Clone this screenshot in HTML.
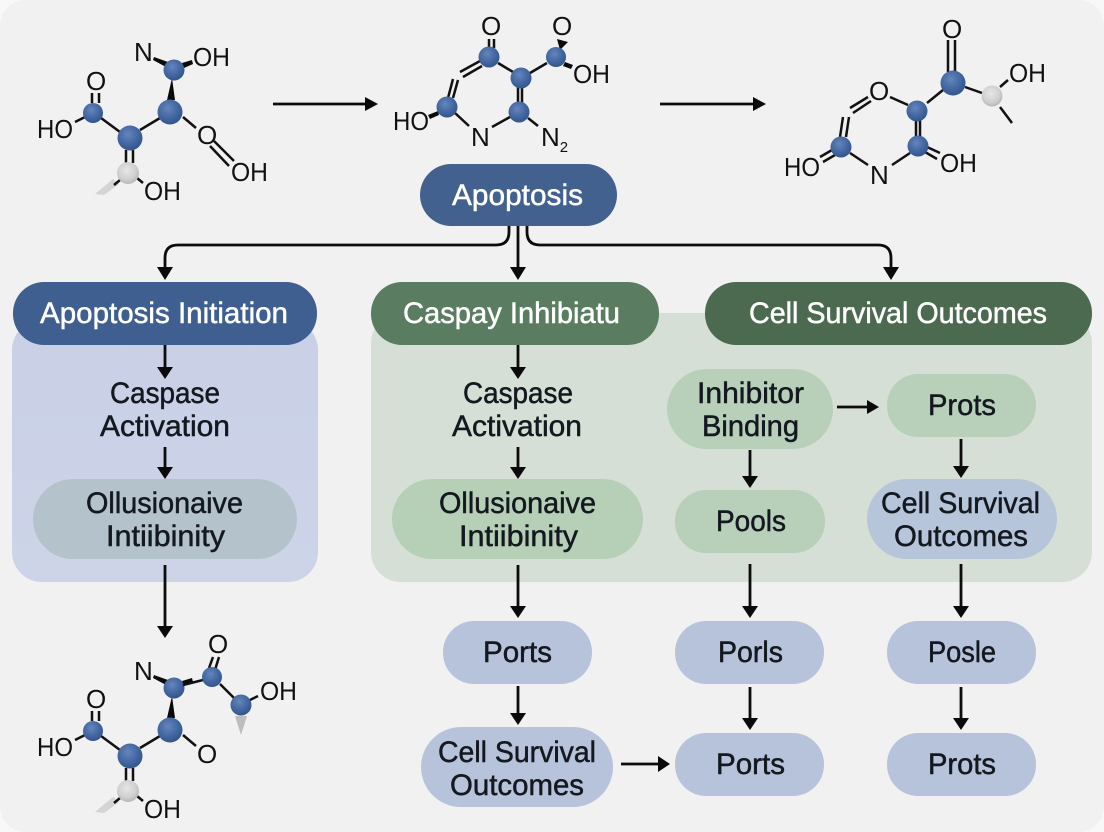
<!DOCTYPE html>
<html><head><meta charset="utf-8"><style>
html,body{margin:0;padding:0;background:#f8f8f8}
svg{display:block;filter:blur(.35px)}
text{font-family:"Liberation Sans",sans-serif}
.n{font-size:30px;fill:#14181f;text-anchor:start;stroke:#14181f;stroke-width:.5}
.w{font-size:30px;fill:#fff;stroke:#fff;stroke-width:.5}
.m{font-size:26px;fill:#111}
.b{stroke:#111;stroke-width:2.5;fill:none;stroke-linecap:butt}
.a{stroke:#0c0c0c;stroke-width:2.8;fill:none}
.h{fill:#0a0a0a}
</style></head><body>
<svg width="1104" height="832" viewBox="0 0 1104 832" xmlns="http://www.w3.org/2000/svg">
<defs>
<radialGradient id="bl" cx=".42" cy=".35" r=".7"><stop offset="0" stop-color="#6585bd"/><stop offset=".6" stop-color="#41659f"/><stop offset="1" stop-color="#31528a"/></radialGradient>
<radialGradient id="gr" cx=".45" cy=".38" r=".7"><stop offset="0" stop-color="#e6e6e6"/><stop offset=".6" stop-color="#cfcfcf"/><stop offset="1" stop-color="#adadad"/></radialGradient>
<linearGradient id="fadeL" x1="0" y1="0" x2="0" y2="1"><stop offset="0" stop-color="#c9d0e6"/><stop offset="1" stop-color="#cdd4e8"/></linearGradient>
<g id="mol">
<path class="b" d="M92 93V103M99 93V103M75 122L85 117M101 118L120 132M140 130L160 118M183 117L196 128M126 150V163M133 150V163M137 178L143 183"/>
<path class="h" d="M167 100L172 78L175 100ZM154 57L168 62L166 67L153 60ZM182 63L192 60L193 64L184 68Z"/>
<polygon fill="#d4d4d4" points="95,194 113,179 119,184 104,195"/>
<path class="b" stroke-width="3" d="M114 185L120 180"/>
<circle cx="93" cy="113" r="10" fill="url(#bl)"/><circle cx="130" cy="138" r="12.5" fill="url(#bl)"/><circle cx="170" cy="112" r="12.5" fill="url(#bl)"/><circle cx="174" cy="70" r="10.5" fill="url(#bl)"/><circle cx="128" cy="173" r="11" fill="url(#gr)"/>
</g>
</defs>
<rect width="1104" height="832" fill="#f8f8f8"/>
<rect x="0" y="0" width="1104" height="832" rx="26" fill="#f1f1f1"/>

<!-- panels -->
<rect x="12" y="320" width="306" height="262" rx="30" fill="url(#fadeL)"/>
<rect x="371" y="313" width="721" height="269" rx="30" fill="#d6dfd5"/>

<!-- header nodes -->
<rect x="420" y="164" width="197" height="62" rx="31" fill="#43618f"/>
<rect x="13" y="282" width="304" height="63" rx="31" fill="#3f5f90"/>
<rect x="371" y="282" width="288" height="63" rx="31" fill="#5a7c60"/>
<rect x="705" y="282" width="387" height="63" rx="31" fill="#4c6a50"/>

<!-- inner nodes -->
<rect x="33" y="479" width="264" height="80" rx="40" fill="#b3c2cb"/>
<rect x="392" y="479" width="251" height="80" rx="40" fill="#b6d0b8"/>
<rect x="667" y="369" width="166" height="80" rx="40" fill="#b8cfba"/>
<rect x="887" y="374" width="149" height="63" rx="31" fill="#b8cfba"/>
<rect x="675" y="490" width="150" height="63" rx="31" fill="#b8cfba"/>
<rect x="867" y="479" width="190" height="80" rx="40" fill="#b6c5d9"/>
<rect x="443" y="621" width="149" height="63" rx="31" fill="#b6c3db"/>
<rect x="675" y="621" width="149" height="63" rx="31" fill="#b6c3db"/>
<rect x="887" y="621" width="149" height="63" rx="31" fill="#b6c3db"/>
<rect x="421" y="727" width="192" height="80" rx="40" fill="#b6c3db"/>
<rect x="675" y="733" width="149" height="63" rx="31" fill="#b6c3db"/>
<rect x="887" y="733" width="149" height="63" rx="31" fill="#b6c3db"/>

<!-- labels -->
<text class="w" x="452" y="205" textLength="131" lengthAdjust="spacingAndGlyphs">Apoptosis</text>
<text class="w" x="40" y="323" textLength="248" lengthAdjust="spacingAndGlyphs">Apoptosis Initiation</text>
<text class="w" x="403" y="323" textLength="217" lengthAdjust="spacingAndGlyphs">Caspay Inhibiatu</text>
<text class="w" x="749" y="323" textLength="298" lengthAdjust="spacingAndGlyphs">Cell Survival Outcomes</text>

<text class="n" x="110" y="403" textLength="110" lengthAdjust="spacingAndGlyphs">Caspase</text>
<text class="n" x="100" y="436" textLength="130" lengthAdjust="spacingAndGlyphs">Activation</text>
<text class="n" x="86" y="513" textLength="157" lengthAdjust="spacingAndGlyphs">Ollusionaive</text>
<text class="n" x="106" y="546" textLength="119" lengthAdjust="spacingAndGlyphs">Intiibinity</text>

<text class="n" x="463" y="403" textLength="110" lengthAdjust="spacingAndGlyphs">Caspase</text>
<text class="n" x="452" y="436" textLength="130" lengthAdjust="spacingAndGlyphs">Activation</text>
<text class="n" x="439" y="513" textLength="157" lengthAdjust="spacingAndGlyphs">Ollusionaive</text>
<text class="n" x="459" y="546" textLength="119" lengthAdjust="spacingAndGlyphs">Intiibinity</text>

<text class="n" x="697" y="403" textLength="107" lengthAdjust="spacingAndGlyphs">Inhibitor</text>
<text class="n" x="702" y="436" textLength="97" lengthAdjust="spacingAndGlyphs">Binding</text>
<text class="n" x="928" y="415" textLength="68" lengthAdjust="spacingAndGlyphs">Prots</text>
<text class="n" x="716" y="531" textLength="70" lengthAdjust="spacingAndGlyphs">Pools</text>
<text class="n" x="881" y="513" textLength="159" lengthAdjust="spacingAndGlyphs">Cell Survival</text>
<text class="n" x="894" y="546" textLength="134" lengthAdjust="spacingAndGlyphs">Outcomes</text>

<text class="n" x="483" y="662" textLength="69" lengthAdjust="spacingAndGlyphs">Ports</text>
<text class="n" x="718" y="662" textLength="65" lengthAdjust="spacingAndGlyphs">Porls</text>
<text class="n" x="928" y="662" textLength="68" lengthAdjust="spacingAndGlyphs">Posle</text>
<text class="n" x="438" y="762" textLength="158" lengthAdjust="spacingAndGlyphs">Cell Survival</text>
<text class="n" x="450" y="795" textLength="134" lengthAdjust="spacingAndGlyphs">Outcomes</text>
<text class="n" x="716" y="774" textLength="69" lengthAdjust="spacingAndGlyphs">Ports</text>
<text class="n" x="928" y="774" textLength="68" lengthAdjust="spacingAndGlyphs">Prots</text>

<!-- connectors -->
<path class="a" d="M518 226V268M509 226V232Q509 245 496 245H178Q165 245 165 258V268M527 226V232Q527 245 540 245H878Q891 245 891 258V268"/>
<path class="h" d="M157 267H173L165 280ZM510 267H526L518 280ZM883 267H899L891 280Z"/>
<g class="a">
<path d="M273 104H368M660 104H756M837 407H869M621 764H660"/>
<path d="M165 345V368M165 447V468M165 565V626M518 345V368M518 447V468M518 565V608M518 686V714M750 450V478M750 564V608M750 687V720M961 439V468M961 564V608M961 687V720"/>
</g>
<path class="h" d="M365 97L378 104L365 111ZM753 97L766 104L753 111ZM867 400L879 407L867 414ZM658 756L670 764L658 772Z"/>
<path class="h" d="M157 367H173L165 379ZM157 467H173L165 479ZM157 626H173L165 638ZM510 367H526L518 379ZM510 467H526L518 479ZM510 606H526L518 618ZM510 713H526L518 725ZM742 476H758L750 488ZM742 606H758L750 618ZM742 718H758L750 730ZM953 466H969L961 478ZM953 606H969L961 618ZM953 718H969L961 730Z"/>

<!-- molecule 1 -->
<use href="#mol"/>
<text class="m" x="86" y="90">O</text>
<text class="m" x="37" y="138" textLength="36" lengthAdjust="spacingAndGlyphs">HO</text>
<text class="m" x="134" y="61">N</text>
<text class="m" x="193" y="66" textLength="37" lengthAdjust="spacingAndGlyphs">OH</text>
<text class="m" x="197" y="144">O</text>
<text class="m" x="231" y="181" textLength="37" lengthAdjust="spacingAndGlyphs">OH</text>
<text class="m" x="144" y="200" textLength="37" lengthAdjust="spacingAndGlyphs">OH</text>
<path class="b" d="M210 146L229 166M214 141L234 161"/>

<!-- molecule 4 -->
<use href="#mol" y="618"/>
<text class="m" x="86" y="708">O</text>
<text class="m" x="37" y="756" textLength="36" lengthAdjust="spacingAndGlyphs">HO</text>
<text class="m" x="134" y="680">N</text>
<text class="m" x="197" y="763">O</text>
<text class="m" x="144" y="818" textLength="37" lengthAdjust="spacingAndGlyphs">OH</text>
<text class="m" x="208" y="653">O</text>
<text class="m" x="260" y="700" textLength="37" lengthAdjust="spacingAndGlyphs">OH</text>
<path class="b" d="M183 685L203 680M213 657L209 668M219 657L215 670M220 684L234 698M250 700L258 696"/>
<polygon fill="#bdbdbd" points="235,716 247,716 241,735"/>
<circle cx="212" cy="677" r="10" fill="url(#bl)"/><circle cx="241" cy="705" r="10.5" fill="url(#bl)"/>

<!-- molecule 2 -->
<path class="b" d="M489 39V48M494 39V48M498 63L513 72M530 73L547 63M480 61L460 72M482 66L463 77M453 79L448 98M458 80L453 98M455 113L469 126M492 127L510 117M518 87V103M522 87V103M528 118L538 126"/>
<path class="h" d="M557 39L568 42L560 50ZM565 62L573 65L571 69L563 66ZM428 115L438 111L439 115L430 119Z"/>
<circle cx="489" cy="57" r="10.5" fill="url(#bl)"/><circle cx="521" cy="78" r="10.5" fill="url(#bl)"/><circle cx="556" cy="57" r="10" fill="url(#bl)"/><circle cx="519" cy="112" r="10.5" fill="url(#bl)"/><circle cx="447" cy="107" r="10.5" fill="url(#bl)"/>
<text class="m" x="481" y="35">O</text>
<text class="m" x="552" y="35">O</text>
<text class="m" x="573" y="83" textLength="37" lengthAdjust="spacingAndGlyphs">OH</text>
<text class="m" x="393" y="130" textLength="36" lengthAdjust="spacingAndGlyphs">HO</text>
<text class="m" x="471" y="146">N</text>
<text class="m" x="541" y="146">N<tspan font-size="15" dy="6">2</tspan></text>

<!-- molecule 3 -->
<path class="b" d="M948 40V72M955 40V72M927 103L943 90M965 87L982 93M1000 87L1008 80M1000 107L1012 123M890 97L908 105M850 108L868 97M853 113L871 101M843 117L840 137M849 117L846 137M820 157L832 150M823 162L835 155M850 153L868 165M892 165L910 153M916 118V138M920 118V138M927 147L940 153M925 152L937 159"/>
<circle cx="953" cy="83" r="12.5" fill="url(#bl)"/><circle cx="917" cy="111" r="10.5" fill="url(#bl)"/><circle cx="918" cy="146" r="10.5" fill="url(#bl)"/><circle cx="841" cy="147" r="10.5" fill="url(#bl)"/><circle cx="992" cy="96" r="10.5" fill="url(#gr)"/>
<text class="m" x="942" y="38">O</text>
<text class="m" x="1009" y="82" textLength="37" lengthAdjust="spacingAndGlyphs">OH</text>
<text class="m" x="869" y="100">O</text>
<text class="m" x="784" y="176" textLength="36" lengthAdjust="spacingAndGlyphs">HO</text>
<text class="m" x="870" y="184">N</text>
<text class="m" x="940" y="172" textLength="37" lengthAdjust="spacingAndGlyphs">OH</text>
</svg>
</body></html>
